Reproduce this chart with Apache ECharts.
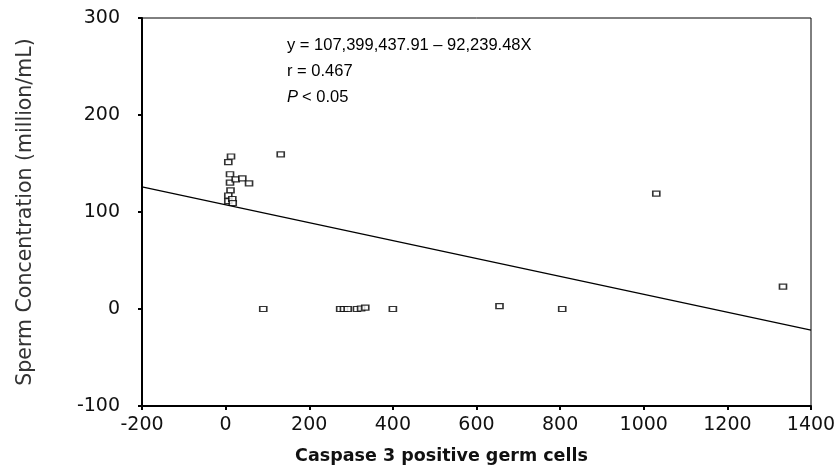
<!DOCTYPE html>
<html>
<head>
<meta charset="utf-8">
<script src="https://cdn.jsdelivr.net/npm/echarts@6/dist/echarts.min.js"></script>
<style>html,body{margin:0;padding:0;background:#fff}#c{width:839px;height:474px}</style>
</head>
<body>
<div id="c"></div>
<script>
// Data
const caspaseX = [12.9, 6.4, 10.5, 10.5, 24.1, 39.9, 56, 11.7, 6.4, 6.4, 16, 17, 131.8,
                  90, 274, 283, 292, 314, 324, 334, 400, 655, 805, 1030, 1333];
const spermY   = [157.2, 151.5, 138.9, 130.2, 133.7, 134.7, 129.6, 122.2, 117, 111.3, 113.4, 109.3, 159.5,
                  0, 0, 0, 0, 0, 0.5, 1.5, 0, 3, 0, 119, 23];
const fitLineX = [-200, 1400];
const fitLineY = [125.85, -21.74];
const xTicks = [-200, 0, 200, 400, 600, 800, 1000, 1200, 1400];
const yTicks = [-100, 0, 100, 200, 300];
const annotationLines = ['y = 107,399,437.91 \u2013 92,239.48X', 'r = 0.467', '< 0.05'];

const points = caspaseX.map((x, i) => [x, spermY[i]]);
const fit = fitLineX.map((x, i) => [x, fitLineY[i]]);

const chart = echarts.init(document.getElementById('c'), null, {renderer: 'canvas'});
const tickFont = {fontFamily: 'DejaVu Sans', fontSize: 19, color: '#111'};
const plain = v => String(v);
chart.setOption({
  animation: false,
  backgroundColor: '#fff',
  grid: {left: 142, right: 28, top: 18, bottom: 68, show: true, borderColor: '#000', borderWidth: 1},
  xAxis: {
    type: 'value', min: xTicks[0], max: xTicks[xTicks.length - 1], interval: 200,
    name: 'Caspase 3 positive germ cells', nameLocation: 'middle', nameGap: 41,
    nameTextStyle: {fontFamily: 'DejaVu Sans', fontWeight: 'bold', fontSize: 17.5, color: '#111', padding: [0, 70, 0, 0]},
    axisLine: {onZero: false, lineStyle: {color: '#000', width: 2}},
    axisTick: {length: 4, lineStyle: {color: '#000', width: 2}},
    axisLabel: Object.assign({margin: 10, formatter: plain}, tickFont),
    splitLine: {show: false}
  },
  yAxis: {
    type: 'value', min: yTicks[0], max: yTicks[yTicks.length - 1], interval: 100,
    name: 'Sperm Concentration (million/mL)', nameLocation: 'middle', nameGap: 106,
    nameTextStyle: {fontFamily: 'DejaVu Sans', fontSize: 20.5, color: '#333'},
    axisLine: {onZero: false, lineStyle: {color: '#000', width: 2}},
    axisTick: {length: 4, lineStyle: {color: '#000', width: 2}},
    axisLabel: Object.assign({margin: 22, formatter: plain}, tickFont),
    splitLine: {show: false}
  },
  series: [
    {
      type: 'line', data: fit, symbol: 'none', silent: true,
      lineStyle: {color: '#000', width: 1.3}
    },
    {
      type: 'scatter', data: points, symbol: 'rect', symbolSize: [7, 5],
      itemStyle: {color: '#fff', borderColor: '#000', borderWidth: 1.4}
    }
  ],
  graphic: [
    {type: 'text', left: 287, top: 37, style: {text: annotationLines[0], font: '16.5px "Liberation Sans"', fill: '#000'}},
    {type: 'text', left: 287, top: 63, style: {text: annotationLines[1], font: '16.5px "Liberation Sans"', fill: '#000'}},
    {type: 'text', left: 287, top: 89, style: {text: 'P', font: 'italic 16.5px "Liberation Sans"', fill: '#000'}},
    {type: 'text', left: 302, top: 89, style: {text: annotationLines[2], font: '16.5px "Liberation Sans"', fill: '#000'}}
  ]
});
</script>
</body>
</html>
